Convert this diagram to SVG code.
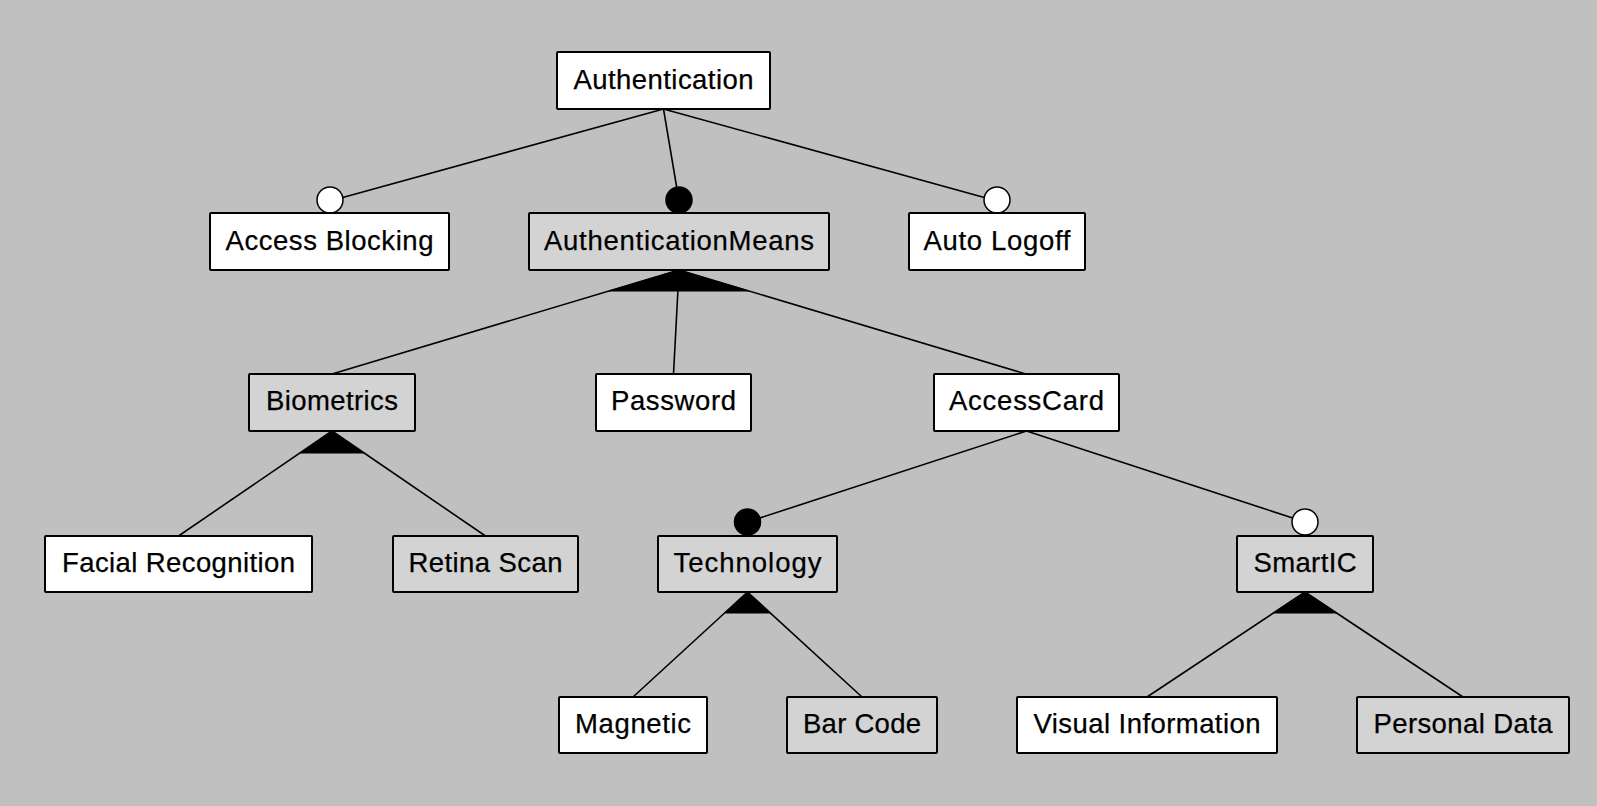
<svg xmlns="http://www.w3.org/2000/svg" width="1597" height="806" viewBox="0 0 1597 806">
<style>
.bg{fill:#c0c0c0}
.box{stroke:#000;stroke-width:2}
.w{fill:#ffffff}
.g{fill:#d3d3d3}
.lbl{font-family:"Liberation Sans",Arial,sans-serif;font-size:27.5px;fill:#000;stroke:#000;stroke-width:0.25;text-anchor:middle}
.ln{stroke:#000;stroke-width:1.6;fill:none}
.tri{fill:#000;stroke:#000;stroke-width:1}
.dotB{fill:#000;stroke:#000;stroke-width:1.5}
.dotW{fill:#fff;stroke:#000;stroke-width:1.5}
</style>
<rect class="bg" x="0" y="0" width="1597" height="806"/>
<g id="connectors">
  <line class="ln" x1="663.5" y1="109" x2="330" y2="201"/>
  <line class="ln" x1="663.5" y1="109" x2="679" y2="201"/>
  <line class="ln" x1="663.5" y1="109" x2="997" y2="201"/>
  <circle class="dotW" cx="330" cy="200" r="13"/>
  <circle class="dotB" cx="679" cy="200" r="13"/>
  <circle class="dotW" cx="997" cy="200" r="13"/>
  <line class="ln" x1="679" y1="270" x2="332" y2="374"/>
  <line class="ln" x1="679" y1="270" x2="673.5" y2="374"/>
  <line class="ln" x1="679" y1="270" x2="1026" y2="374"/>
  <polygon class="tri" points="679,270 609,291 749,291"/>
  <line class="ln" x1="332" y1="431" x2="178.5" y2="536"/>
  <line class="ln" x1="332" y1="431" x2="485.5" y2="536"/>
  <polygon class="tri" points="332,431 300,453 364,453"/>
  <line class="ln" x1="1026.5" y1="431" x2="747.5" y2="522"/>
  <line class="ln" x1="1026.5" y1="431" x2="1305" y2="522"/>
  <circle class="dotB" cx="747.5" cy="522" r="13"/>
  <circle class="dotW" cx="1305" cy="522" r="13"/>
  <line class="ln" x1="747.5" y1="592" x2="633" y2="697"/>
  <line class="ln" x1="747.5" y1="592" x2="862" y2="697"/>
  <polygon class="tri" points="747.5,592 724.6,613 770.4,613"/>
  <line class="ln" x1="1305" y1="592" x2="1147" y2="697"/>
  <line class="ln" x1="1305" y1="592" x2="1463" y2="697"/>
  <polygon class="tri" points="1305,592 1273.4,613 1336.6,613"/>
</g>
<g id="n-authentication"><rect class="box w" x="557" y="52" width="213" height="57" rx="1"/><text class="lbl" x="663.5" y="89" textLength="180" lengthAdjust="spacing">Authentication</text></g>
<g id="n-access-blocking"><rect class="box w" x="210" y="213" width="239" height="57" rx="1"/><text class="lbl" x="329.5" y="250" textLength="208" lengthAdjust="spacing">Access Blocking</text></g>
<g id="n-authentication-means"><rect class="box g" x="529" y="213" width="300" height="57" rx="1"/><text class="lbl" x="679" y="250" textLength="270" lengthAdjust="spacing">AuthenticationMeans</text></g>
<g id="n-auto-logoff"><rect class="box w" x="909" y="213" width="176" height="57" rx="1"/><text class="lbl" x="997" y="250" textLength="147" lengthAdjust="spacing">Auto Logoff</text></g>
<g id="n-biometrics"><rect class="box g" x="249" y="374" width="166" height="57" rx="1"/><text class="lbl" x="332" y="410" textLength="132" lengthAdjust="spacing">Biometrics</text></g>
<g id="n-password"><rect class="box w" x="596" y="374" width="155" height="57" rx="1"/><text class="lbl" x="673.5" y="410" textLength="125" lengthAdjust="spacing">Password</text></g>
<g id="n-accesscard"><rect class="box w" x="934" y="374" width="185" height="57" rx="1"/><text class="lbl" x="1026.5" y="410" textLength="155" lengthAdjust="spacing">AccessCard</text></g>
<g id="n-facial-recognition"><rect class="box w" x="45" y="536" width="267" height="56" rx="1"/><text class="lbl" x="178.5" y="572" textLength="233" lengthAdjust="spacing">Facial Recognition</text></g>
<g id="n-retina-scan"><rect class="box g" x="393" y="536" width="185" height="56" rx="1"/><text class="lbl" x="485.5" y="572" textLength="154" lengthAdjust="spacing">Retina Scan</text></g>
<g id="n-technology"><rect class="box g" x="658" y="536" width="179" height="56" rx="1"/><text class="lbl" x="747.5" y="572" textLength="148" lengthAdjust="spacing">Technology</text></g>
<g id="n-smartic"><rect class="box g" x="1237" y="536" width="136" height="56" rx="1"/><text class="lbl" x="1305" y="572" textLength="103" lengthAdjust="spacing">SmartIC</text></g>
<g id="n-magnetic"><rect class="box w" x="559" y="697" width="148" height="56" rx="1"/><text class="lbl" x="633" y="733" textLength="116" lengthAdjust="spacing">Magnetic</text></g>
<g id="n-bar-code"><rect class="box g" x="787" y="697" width="150" height="56" rx="1"/><text class="lbl" x="862" y="733" textLength="118" lengthAdjust="spacing">Bar Code</text></g>
<g id="n-visual-information"><rect class="box w" x="1017" y="697" width="260" height="56" rx="1"/><text class="lbl" x="1147" y="733" textLength="227" lengthAdjust="spacing">Visual Information</text></g>
<g id="n-personal-data"><rect class="box g" x="1357" y="697" width="212" height="56" rx="1"/><text class="lbl" x="1463" y="733" textLength="179" lengthAdjust="spacing">Personal Data</text></g>
</svg>
